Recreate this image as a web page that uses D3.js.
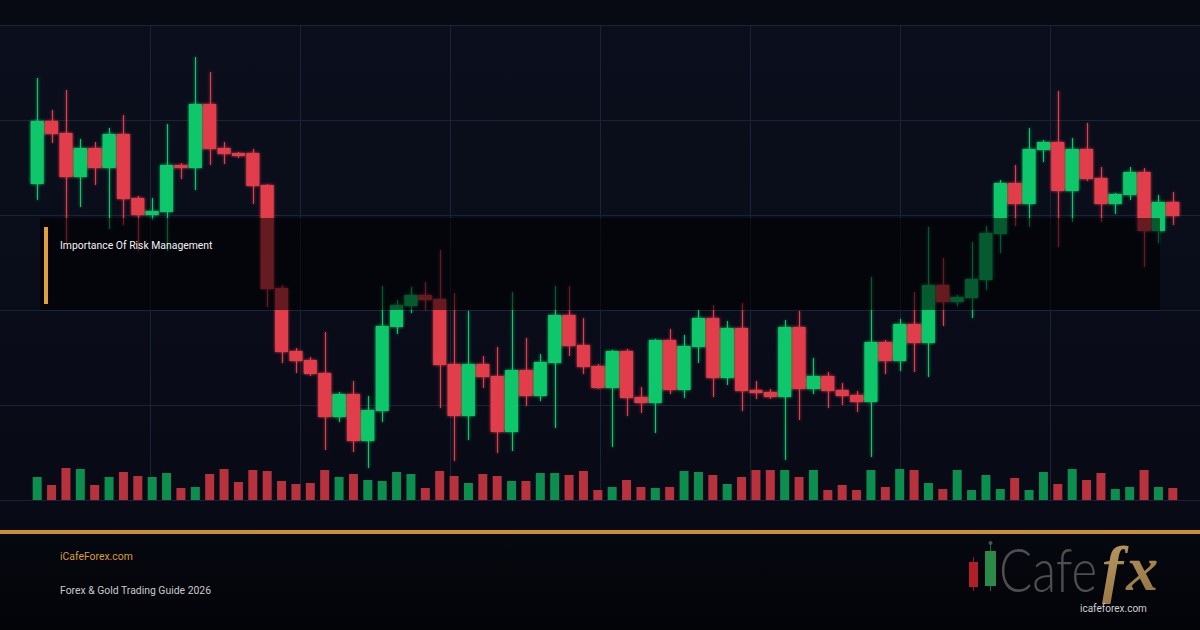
<!DOCTYPE html>
<html>
<head>
<meta charset="utf-8">
<script src="https://cdn.jsdelivr.net/npm/d3@7"></script>
<style>
  html, body { margin: 0; padding: 0; background: #0a0e1a; }
  svg { display: block; }
</style>
</head>
<body>
<script>
var W = 1200, H = 630;

// OHLC (gold-like prices)
var opens = [1963.2,1975.8,1973.4,1964.6,1970.4,1966.4,1973.2,1960.4,1957.0,1957.6,
  1967.0,1966.4,1979.2,1970.4,1969.4,1969.4,1963.0,1942.4,1929.8,1928.0,
  1925.4,1916.6,1921.2,1911.8,1917.8,1934.6,1938.8,1941.0,1940.2,1927.2,
  1916.8,1927.2,1924.8,1913.6,1926.0,1920.8,1927.4,1937.0,1931.0,1926.8,
  1922.4,1929.8,1920.6,1919.4,1932.0,1922.0,1930.6,1936.4,1924.4,1934.4,
  1922.0,1921.6,1920.6,1934.6,1922.2,1924.8,1922.0,1921.0,1919.6,1931.6,
  1927.8,1935.2,1931.4,1943.0,1939.6,1940.4,1944.0,1953.2,1963.4,1959.2,
  1970.0,1971.6,1961.8,1970.2,1964.4,1959.2,1961.0,1965.6,1953.8,1959.6];
var highs = [1984.4,1978.0,1982.0,1972.2,1971.6,1974.4,1977.0,1960.8,1960.4,1975.2,
  1967.4,1988.6,1985.6,1971.6,1969.6,1970.2,1963.2,1943.0,1930.4,1928.6,
  1933.6,1921.6,1923.8,1920.8,1942.8,1940.0,1942.6,1943.6,1950.0,1941.4,
  1937.8,1928.8,1930.6,1941.6,1932.4,1929.2,1942.8,1942.8,1936.4,1927.2,
  1930.0,1930.2,1922.6,1932.2,1934.2,1933.0,1938.0,1939.0,1935.8,1939.4,
  1923.8,1922.2,1936.0,1937.8,1928.4,1925.6,1923.4,1921.8,1944.6,1932.0,
  1936.2,1941.6,1954.6,1948.4,1941.0,1951.6,1954.8,1964.0,1967.0,1974.4,
  1972.0,1981.8,1972.4,1975.4,1966.6,1961.4,1966.6,1966.4,1961.0,1961.6];
var lows = [1960.0,1971.4,1951.4,1958.6,1963.0,1954.2,1955.0,1949.8,1956.0,1949.8,
  1964.2,1962.0,1967.0,1967.2,1968.4,1959.2,1938.6,1927.4,1925.4,1924.8,
  1910.0,1915.6,1909.6,1906.4,1915.6,1933.2,1937.4,1938.0,1918.4,1907.8,
  1912.0,1922.4,1909.4,1909.8,1918.8,1919.8,1914.4,1928.8,1925.2,1922.2,
  1910.6,1916.8,1917.4,1913.4,1921.2,1920.4,1927.4,1920.6,1923.0,1917.8,
  1920.2,1920.2,1908.0,1916.0,1921.2,1918.4,1919.0,1917.6,1908.6,1925.2,
  1925.8,1925.6,1924.6,1934.8,1938.8,1936.4,1942.0,1949.4,1954.8,1954.6,
  1967.6,1950.6,1955.6,1963.8,1955.6,1957.2,1960.0,1946.6,1951.4,1955.0];
var closes = [1975.8,1973.2,1964.6,1970.4,1966.4,1973.2,1960.2,1957.0,1957.8,1967.0,
  1966.4,1979.2,1970.2,1969.2,1968.8,1962.8,1942.2,1929.6,1927.8,1925.2,
  1916.6,1921.2,1911.8,1918.0,1934.8,1939.0,1941.0,1940.0,1927.0,1916.8,
  1927.2,1924.6,1913.6,1926.0,1920.8,1927.6,1937.0,1930.8,1926.6,1922.4,
  1929.8,1920.4,1919.4,1932.0,1922.0,1930.8,1936.4,1924.4,1934.4,1921.8,
  1921.4,1920.6,1934.6,1922.2,1924.8,1921.8,1920.8,1919.6,1931.6,1927.8,
  1935.2,1931.4,1943.0,1939.6,1940.6,1944.2,1953.4,1963.4,1959.2,1970.2,
  1971.6,1961.8,1970.2,1964.2,1959.2,1961.2,1965.6,1953.8,1959.6,1956.8];
var volumes = [2300,1500,3200,3100,1500,2300,2800,2400,2300,2700,
  1200,1300,2600,3100,1800,3000,2900,1900,1600,1700,
  3000,2300,2600,2000,1900,2800,2600,1200,2900,2400,
  1700,2600,2400,1900,1900,2700,2700,2500,2900,1000,
  1300,2000,1300,1200,1300,2900,2800,2500,1600,2300,
  3000,3000,3000,2300,3000,1000,1500,1000,3000,1300,
  3100,3000,1700,1100,3000,1000,2500,1100,2200,1000,
  2800,1600,3100,2000,2700,1100,1300,3000,1300,1200];
var gridPrices = [1900, 1919, 1938, 1957, 1976, 1995];
var titleText = "Importance Of Risk Management";
var siteText = "iCafeForex.com";
var guideText = "Forex & Gold Trading Guide 2026";

var green = "#0fc76a", red = "#e23d4b";
var volGreen = "#0c8f4e", volRed = "#b8323e";

var candles = opens.map(function(o, i) {
  return { i: i, o: o, h: highs[i], l: lows[i], c: closes[i], v: volumes[i], up: closes[i] >= o };
});

var x = d3.scaleBand().domain(d3.range(candles.length)).range([30, 1180]).paddingInner(0.1).paddingOuter(0.05);
var y = d3.scaleLinear().domain([1900, 2000]).range([500, 0]);
var vy = d3.scaleLinear().domain([0, 4000]).range([500, 460]);

var svg = d3.select("body").append("svg").attr("width", W).attr("height", H);
var defs = svg.append("defs");

var bg = defs.append("linearGradient").attr("id", "bg").attr("x1", 0).attr("y1", 0).attr("x2", 0).attr("y2", 1);
bg.append("stop").attr("offset", "0%").attr("stop-color", "#0b0f1d");
bg.append("stop").attr("offset", "80%").attr("stop-color", "#080b16");
bg.append("stop").attr("offset", "100%").attr("stop-color", "#04060b");

var foot = defs.append("linearGradient").attr("id", "foot").attr("x1", 0).attr("y1", 0).attr("x2", 0).attr("y2", 1);
foot.append("stop").attr("offset", "0%").attr("stop-color", "#060810");
foot.append("stop").attr("offset", "100%").attr("stop-color", "#030408");

var gold = defs.append("linearGradient").attr("id", "gold").attr("x1", 0).attr("y1", 0).attr("x2", 1).attr("y2", 1);
gold.append("stop").attr("offset", "0%").attr("stop-color", "#d4b57a");
gold.append("stop").attr("offset", "100%").attr("stop-color", "#8e6e3c");

var glow = defs.append("filter").attr("id", "glow").attr("x", "-50%").attr("y", "-10%").attr("width", "200%").attr("height", "120%");
glow.append("feGaussianBlur").attr("stdDeviation", 1.5).attr("result", "b");
var merge = glow.append("feMerge");
merge.append("feMergeNode").attr("in", "b");
merge.append("feMergeNode").attr("in", "SourceGraphic");

svg.append("rect").attr("width", W).attr("height", H).attr("fill", "url(#bg)");
svg.append("rect").attr("width", W).attr("height", y(1995)).attr("fill", "#070a13");
svg.append("rect").attr("y", 530).attr("width", W).attr("height", 100).attr("fill", "url(#foot)");

// grid
svg.append("g").selectAll("line").data(gridPrices).enter().append("line")
  .attr("x1", 0).attr("x2", W)
  .attr("y1", function(d) { return Math.round(y(d)) + 0.5; })
  .attr("y2", function(d) { return Math.round(y(d)) + 0.5; })
  .attr("stroke", "#1d2336").attr("stroke-width", 1);

svg.append("g").selectAll("line").data(d3.range(1, 8)).enter().append("line")
  .attr("x1", function(d) { return d * 150 + 0.5; })
  .attr("x2", function(d) { return d * 150 + 0.5; })
  .attr("y1", y(1995)).attr("y2", y(1900))
  .attr("stroke", "#1d2336").attr("stroke-width", 1);

// volume
svg.append("g").selectAll("rect").data(candles).enter().append("rect")
  .attr("x", function(d) { return x(d.i) + x.bandwidth() / 2 - 4.5; })
  .attr("width", 9)
  .attr("y", function(d) { return vy(d.v); })
  .attr("height", function(d) { return vy(0) - vy(d.v); })
  .attr("fill", function(d) { return d.up ? volGreen : volRed; });

// candles
var cg = svg.append("g").attr("filter", "url(#glow)");
cg.selectAll("line").data(candles).enter().append("line")
  .attr("x1", function(d) { return Math.round(x(d.i) + x.bandwidth() / 2) + 0.5; })
  .attr("x2", function(d) { return Math.round(x(d.i) + x.bandwidth() / 2) + 0.5; })
  .attr("y1", function(d) { return y(d.h); })
  .attr("y2", function(d) { return y(d.l); })
  .attr("stroke", function(d) { return d.up ? green : red; })
  .attr("stroke-width", 1);

cg.selectAll("rect").data(candles).enter().append("rect")
  .attr("x", function(d) { return x(d.i); })
  .attr("width", x.bandwidth())
  .attr("y", function(d) { return y(Math.max(d.o, d.c)); })
  .attr("height", function(d) { return Math.max(1, Math.abs(y(d.o) - y(d.c))); })
  .attr("fill", function(d) { return d.up ? green : red; });

// title overlay
svg.append("rect").attr("x", 40).attr("y", 218).attr("width", 1120).attr("height", 92)
  .attr("fill", "#000000").attr("opacity", 0.55);
svg.append("rect").attr("x", 44).attr("y", 227).attr("width", 4).attr("height", 77).attr("fill", "#e0a040");
svg.append("text").attr("x", 60).attr("y", 249).text(titleText)
  .attr("font-family", "Roboto, sans-serif").attr("font-size", 10.4).attr("fill", "#f2f2f2");

// footer
svg.append("rect").attr("x", 0).attr("y", 530).attr("width", W).attr("height", 4).attr("fill", "#c99035");
svg.append("text").attr("x", 60).attr("y", 560).text(siteText)
  .attr("font-family", "Roboto, sans-serif").attr("font-size", 10.4).attr("fill", "#d99b3c");
svg.append("text").attr("x", 60).attr("y", 594).text(guideText)
  .attr("font-family", "Roboto, sans-serif").attr("font-size", 10.4).attr("fill", "#c9c9c9");

// logo
var logo = svg.append("g");
logo.append("line").attr("x1", 973.5).attr("x2", 973.5).attr("y1", 557).attr("y2", 591).attr("stroke", "#8a1c22");
logo.append("rect").attr("x", 969).attr("y", 562).attr("width", 9).attr("height", 25).attr("fill", "#b01f27");
logo.append("line").attr("x1", 990.5).attr("x2", 990.5).attr("y1", 544).attr("y2", 591).attr("stroke", "#1e6a36");
logo.append("circle").attr("cx", 990.5).attr("cy", 543).attr("r", 2).attr("fill", "#3a5a44");
logo.append("rect").attr("x", 985).attr("y", 551).attr("width", 11).attr("height", 35).attr("fill", "#2c8a48");
var word = logo.append("text").attr("x", 999).attr("y", 592)
  .attr("font-family", "Lato, sans-serif").attr("font-weight", 300).attr("font-size", 62);
word.append("tspan").text("Cafe").attr("fill", "#4e4e4e")
  .attr("textLength", 98).attr("lengthAdjust", "spacingAndGlyphs");
word.append("tspan").text("fx").attr("dx", 5).attr("dy", -2)
  .attr("font-family", "'Liberation Serif', serif").attr("font-style", "italic").attr("font-weight", "bold")
  .attr("font-size", 64).attr("letter-spacing", 3).attr("fill", "url(#gold)");
logo.append("text").attr("x", 1080).attr("y", 612).text("icafeforex.com")
  .attr("font-family", "Roboto, sans-serif").attr("font-size", 10).attr("fill", "#cfcfcf");
</script>
</body>
</html>
